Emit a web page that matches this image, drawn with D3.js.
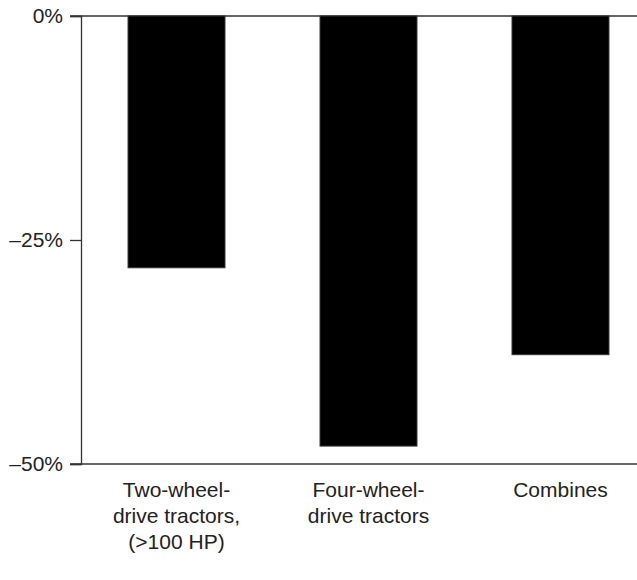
<!DOCTYPE html>
<html><head><meta charset="utf-8">
<script src="https://cdn.jsdelivr.net/npm/d3@7"></script>
<style>body{margin:0;background:#fff}svg{display:block}text{font-family:"Liberation Sans",Arial,sans-serif;fill:#222}</style>
</head><body>
<svg id="c" width="637" height="580"></svg>
<script>
const categories = ["Two-wheel-\ndrive tractors,\n(>100 HP)", "Four-wheel-\ndrive tractors", "Combines"];
const values = [-28.1, -48.0, -37.8];
const yTicks = [0, -25, -50];
const yTickLabels = ["0%", "\u201325%", "\u201350%"];

const svg = d3.select("#c");
const x = d3.scaleBand().domain(categories).range([81, 656]).paddingInner(0.495).paddingOuter(0.245);
const y = d3.scaleLinear().domain([-50, 0]).range([464, 16]);
const axisColor = "#333";

// horizontal lines at 0 and -50
[0, -50].forEach(v => {
  svg.append("line").attr("x1", 70).attr("x2", 637).attr("y1", y(v)).attr("y2", y(v))
    .attr("stroke", axisColor).attr("stroke-width", 1.3);
});

// bars
svg.selectAll("rect.bar").data(values).enter().append("rect")
  .attr("x", (d, i) => x(categories[i]))
  .attr("width", x.bandwidth())
  .attr("y", d => y(Math.max(0, d)))
  .attr("height", d => Math.abs(y(d) - y(0)))
  .attr("fill", "#000").attr("stroke", "#333").attr("stroke-width", 1);

// y axis
const yAxis = d3.axisLeft(y).tickValues(yTicks).tickSize(11).tickPadding(7)
  .tickFormat((d, i) => yTickLabels[i]);
const gy = svg.append("g").attr("transform", "translate(81,0)").call(yAxis);
gy.select(".domain").attr("stroke", axisColor).attr("stroke-width", 1.3);
gy.selectAll(".tick line").attr("stroke", axisColor).attr("stroke-width", 1.3);
gy.selectAll(".tick text").attr("font-size", 21).attr("font-family", "Liberation Sans, Arial, sans-serif").attr("fill", "#222");

// category labels
categories.forEach(c => {
  const lines = c.split("\n");
  const t = svg.append("text").attr("text-anchor", "middle").attr("font-size", 21)
    .attr("x", x(c) + x.bandwidth() / 2).attr("y", 497);
  lines.forEach((l, j) => {
    t.append("tspan").attr("x", x(c) + x.bandwidth() / 2).attr("y", 497 + j * 26).text(l);
  });
});
</script>
</body></html>
